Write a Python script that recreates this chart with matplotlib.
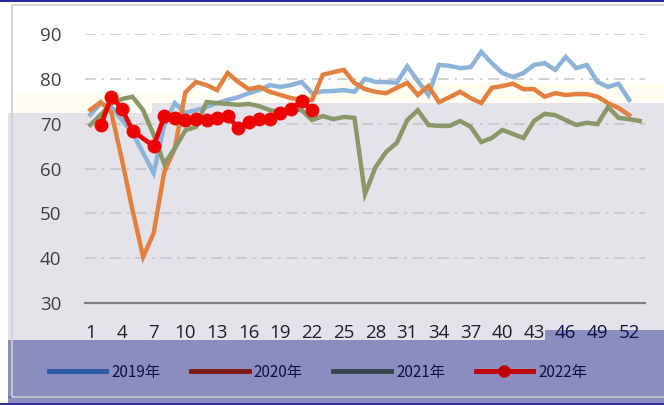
import matplotlib
matplotlib.use("Agg")
import matplotlib.pyplot as plt
from matplotlib.patches import Rectangle
from matplotlib.lines import Line2D

plt.rcParams['font.family'] = ['Open Sans', 'Noto Sans CJK SC', 'DejaVu Sans']

# weekly data, 2019-2022
weeks_2019 = list(range(1, 53))
val_2019 = [72.0, 74.5, 73.7, 70.8, 67.9, 63.5, 59.0, 69.7, 74.6, 72.4,
            73.0, 73.7, 74.6, 75.3, 75.9, 76.8, 77.5, 78.6, 78.2, 78.6,
            79.3, 76.8, 77.2, 77.3, 77.5, 77.1, 80.0, 79.3, 79.3, 79.1,
            82.8, 79.5, 76.4, 83.1, 82.9, 82.4, 82.6, 86.0, 83.5, 81.3,
            80.4, 81.3, 83.1, 83.5, 82.0, 84.9, 82.4, 83.1, 79.3, 78.2,
            78.9, 75.3]

weeks_2020 = list(range(1, 53))
val_2020 = [73.1, 74.8, 72.5, 61.9, 50.7, 40.3, 45.6, 59.2, 64.5, 77.0,
            79.3, 78.6, 77.5, 81.3, 79.3, 77.7, 78.2, 77.1, 76.4, 75.7,
            75.3, 75.3, 80.9, 81.5, 82.0, 79.1, 77.7, 77.1, 76.8, 78.0,
            79.1, 76.4, 78.4, 74.8, 75.9, 77.1, 75.7, 74.6, 78.0, 78.4,
            78.9, 77.7, 77.7, 76.0, 76.8, 76.4, 76.6, 76.6, 76.0, 74.6,
            73.5, 71.9]

weeks_2021 = list(range(1, 54))
val_2021 = [69.7, 72.0, 74.5, 75.5, 76.0, 73.0, 67.5, 61.0, 64.5, 68.5,
            69.3, 74.8, 74.6, 74.4, 74.2, 74.4, 73.9, 73.0, 72.6, 73.3,
            73.0, 70.8, 71.7, 71.0, 71.5, 71.3, 54.3, 60.3, 63.7, 65.7,
            70.8, 73.0, 69.7, 69.5, 69.5, 70.6, 69.3, 65.9, 66.8, 68.6,
            67.7, 66.8, 70.6, 72.2, 71.9, 70.8, 69.7, 70.2, 69.9, 73.7,
            71.3, 71.0, 70.6]

# week 6 of 2022 has no value
weeks_2022 = [2, 3, 4, 5, 7, 8, 9, 10, 11, 12, 13, 14, 15, 16, 17, 18, 19, 20, 21, 22]
val_2022 = [69.7, 76.0, 73.3, 68.4, 65.0, 71.6, 71.3, 70.8, 71.0, 70.8,
            71.3, 71.7, 69.0, 70.4, 71.0, 71.0, 72.4, 73.3, 75.1, 73.0]

labels = ['2019年', '2020年', '2021年', '2022年']
line_colors = ['#8DB4D8', '#E2803F', '#8A9868', '#EE0000']
legend_colors = ['#2E5AA6', '#7E1A10', '#34444A', '#C00000']

W, H = 664, 405
fig = plt.figure(figsize=(W / 100, H / 100), dpi=100)
fig.patch.set_facecolor('white')


def band(x0, y0, x1, y1, color, z=-5):
    # rectangle given in pixel coords from the top left corner
    r = Rectangle((x0 / W, 1 - y1 / H), (x1 - x0) / W, (y1 - y0) / H,
                  transform=fig.transFigure, facecolor=color, edgecolor='none', zorder=z)
    fig.patches.append(r)


# background bands of the picture
band(10, 92, 152, 113, '#FFFDF2')
band(152, 92, 332, 103, '#FFFDF2')
band(332, 82, 664, 103, '#FFFDF2')
band(8, 113, 152, 340, '#E5E3EA')
band(152, 103, 664, 340, '#E5E3EA')
band(8, 340, 664, 405, '#8A8DBE')
band(545, 330, 664, 340, '#8A8DBE')
band(0, 0, 664, 2, '#2A2AA0')
band(8, 396, 664, 398, '#6C70A8')
band(0, 403, 664, 405, '#3030A0')
frame = Rectangle((12 / W, 1 - 397 / H), 660 / W, 392 / H, transform=fig.transFigure,
                  facecolor='none', edgecolor='#D0D0D0', lw=1.2, zorder=-4)
fig.patches.append(frame)

ax = fig.add_axes([85 / W, 102 / H, 560 / W, 269 / H])
ax.patch.set_alpha(0)

ax.plot(weeks_2019, val_2019, color=line_colors[0], lw=3.2, solid_joinstyle='miter')
ax.plot(weeks_2020, val_2020, color=line_colors[1], lw=3.2, solid_joinstyle='miter')
ax.plot(weeks_2021, val_2021, color=line_colors[2], lw=3.2, solid_joinstyle='miter')
ax.plot(weeks_2022, val_2022, color=line_colors[3], lw=3.4, marker='o', markersize=9)

ax.set_xlim(0.5, 53.5)
ax.set_ylim(30, 90)
ax.set_yticks(range(30, 91, 10))
ax.set_xticks(range(1, 53, 3))

for y in range(40, 91, 10):
    ax.axhline(y, color='#C4C4C4', lw=1.1, ls=(0, (7, 4, 1.5, 4)), zorder=0)

for s in ['top', 'right', 'left']:
    ax.spines[s].set_visible(False)
ax.spines['bottom'].set_color('#808080')
ax.spines['bottom'].set_linewidth(1.6)
ax.tick_params(axis='both', length=0, labelsize=13.5, colors='#404040')
ax.tick_params(axis='y', pad=17)
ax.tick_params(axis='x', pad=15, labelcolor='#1E1E2E')
for t in ax.get_xticklabels():
    if int(t.get_text()) >= 46:
        t.set_color('#10104A')

handles = [Line2D([], [], color=c, lw=3.5) for c in legend_colors[:3]]
handles.append(Line2D([], [], color=legend_colors[3], lw=3.5, marker='o', markersize=8))
fig.legend(handles, labels, loc='center', bbox_to_anchor=(318 / W, 1 - 372 / H), ncol=4,
           frameon=False, handlelength=3.75, handletextpad=0.35, columnspacing=2.0,
           prop={'family': ['Noto Sans CJK SC', 'DejaVu Sans'], 'size': 11},
           labelcolor='#101040')

fig.savefig('out.png', dpi=100)
